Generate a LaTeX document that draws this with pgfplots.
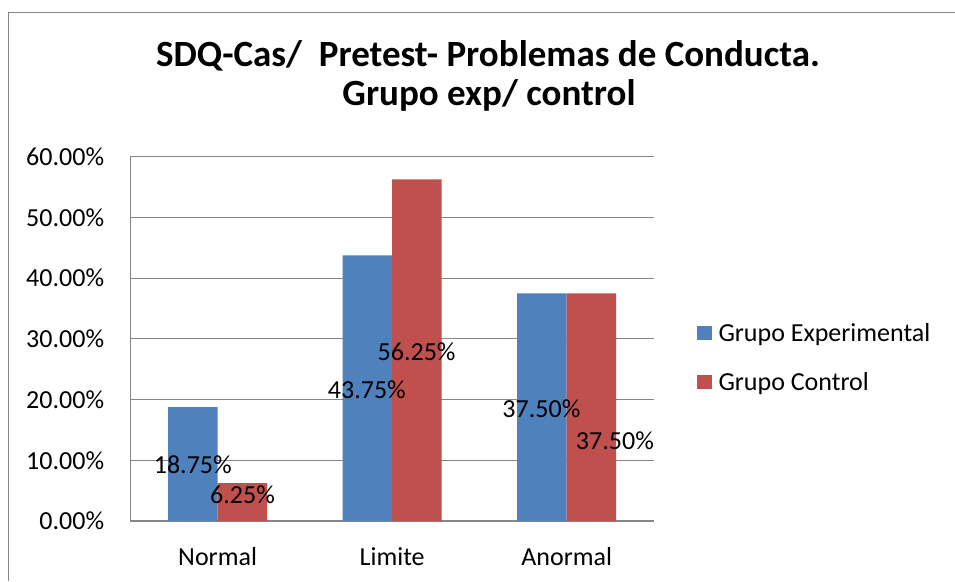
\documentclass[border=0pt]{standalone}
\usepackage{fontspec}
\setmainfont{Carlito}
\usepackage{pgfplots}
\pgfplotsset{compat=1.18}
\definecolor{expblue}{HTML}{4F81BD}
\definecolor{ctrlred}{HTML}{C0504D}
\definecolor{gridgray}{HTML}{868686}
\begin{document}
\begin{tikzpicture}[x=1pt,y=1pt]
\useasboundingbox (0,0) rectangle (955,-581);
\fill[white] (0,0) rectangle (955,-581);
\draw[gridgray, line width=1.2pt] (8.3,-581) -- (8.3,-12.7) -- (955,-12.7);
\node[anchor=base, inner sep=0pt, font=\fontsize{37}{44}\selectfont\bfseries] at (488,-66) {SDQ-Cas/\ \ Pretest- Problemas de Conducta.};
\node[anchor=base, inner sep=0pt, font=\fontsize{37}{44}\selectfont\bfseries] at (489,-105) {Grupo exp/ control};
\begin{axis}[
  at={(130.3pt,-521pt)}, anchor=south west,
  scale only axis, width=523.7pt, height=364.3pt,
  font=\fontsize{26}{31}\selectfont,
  xmin=-0.5, xmax=2.5, ymin=0, ymax=60,
  ytick={0,10,...,60},
  xtick={0,1,2}, xticklabels={Normal,Limite,Anormal},
  /pgf/number format/assume math mode=true,
  yticklabel={\pgfmathprintnumber[fixed,fixed zerofill,precision=2]{\tick}\%},
  yticklabel style={inner sep=0pt, anchor=east, xshift=-26pt},
  xticklabel style={inner sep=0pt, anchor=base, yshift=-44pt},
  major tick length=0pt,
  ymajorgrids, grid style={gridgray, line width=1.2pt},
  axis lines*=left, axis line style={gridgray, line width=1.2pt, -},
  legend style={at={(1.0821,0.5416)}, anchor=north west, draw=none, fill=none,
    inner sep=0pt, row sep=24.4pt, column sep=0pt,
    nodes={inner sep=0pt, text height=18pt, text depth=6pt, anchor=base west}},
  legend cell align=left,
  legend image code/.code={\path[#1] (0pt,1.7pt) rectangle (14.7pt,15.7pt); \path (0pt,0pt) (21.3pt,0pt);},
]
\addplot[ybar, bar width=0.2835, bar shift=-0.14175, fill=expblue, draw=none]
  coordinates {(0,18.75) (1,43.75) (2,37.5)};
\addlegendentry{Grupo Experimental}
\addplot[ybar, bar width=0.2835, bar shift=0.14175, fill=ctrlred, draw=none]
  coordinates {(0,6.25) (1,56.25) (2,37.5)};
\addlegendentry{Grupo Control}
\addplot[forget plot, only marks, mark=none, nodes near coords, point meta=explicit symbolic,
  every node near coord/.append style={anchor=center, inner sep=0pt, font=\fontsize{26}{31}\selectfont}]
  coordinates {(-0.142,9.22) [18.75\%] (0.143,4.28) [6.25\%] (0.855,21.7) [43.75\%]
               (1.140,27.9) [56.25\%] (1.855,18.56) [37.50\%] (2.276,13.3) [37.50\%]};
\end{axis}
\end{tikzpicture}
\end{document}
